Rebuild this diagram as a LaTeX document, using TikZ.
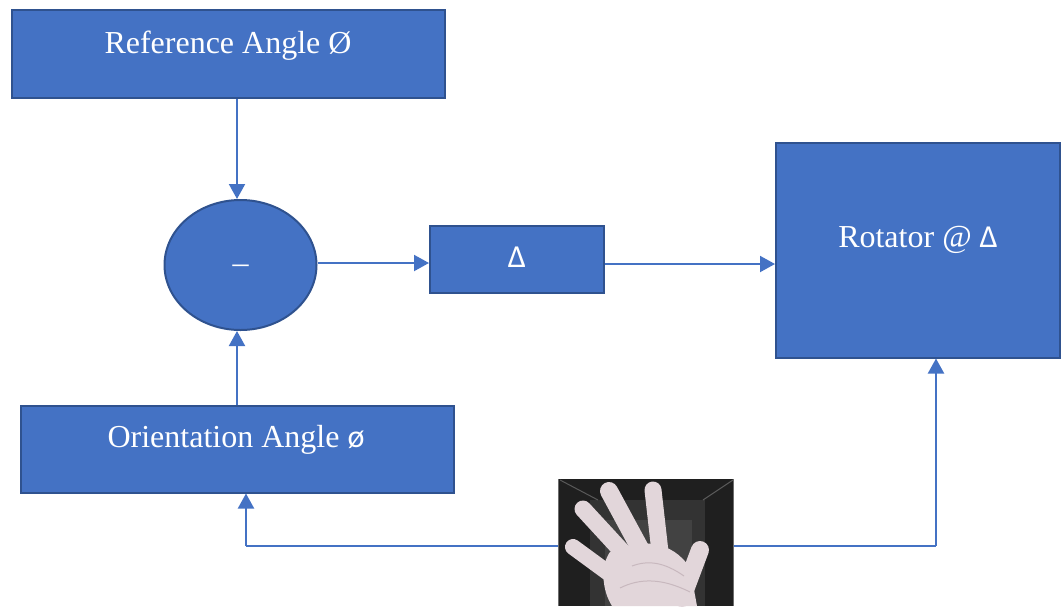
\documentclass[tikz,border=0pt]{standalone}
\usepackage{fontspec}
\setmainfont{Liberation Serif}
\newfontfamily\sfd{Carlito}
\usetikzlibrary{arrows.meta,shapes.geometric}
\definecolor{blu}{HTML}{4472C4}
\definecolor{bord}{HTML}{2F528F}
\definecolor{skin}{HTML}{E2D6DA}
\definecolor{skind}{HTML}{C8B8BE}
\tikzset{
  box/.style={draw=bord, fill=blu, line width=2pt, inner sep=0pt},
  lbl/.style={text=white, font=\fontsize{32}{38}\selectfont, anchor=base, inner sep=0pt},
  conn/.style={draw=blu, line width=2pt, -{Triangle[length=15pt,width=16pt]}},
  line/.style={draw=blu, line width=2pt},
  finger/.style={draw=skin, line cap=round},
}
\begin{document}
\begin{tikzpicture}[x=1pt,y=-1pt]
\useasboundingbox (0,0) rectangle (1063,606);
% boxes
\node[box, minimum width=433pt, minimum height=88pt] (ref) at (228,54) {};
\node[lbl] (reft) at (228,53) {Reference Angle Ø};
\node[box, ellipse, minimum width=152pt, minimum height=130pt] (ell) at (240.5,265) {};
\node[lbl] (minus) at (240.5,262) {\_};
\node[box, minimum width=174pt, minimum height=67pt] (del) at (517,259) {};
\node[lbl, font=\fontsize{32}{38}\sfd] (delt) at (517,267) {Δ};
\node[box, minimum width=284pt, minimum height=215pt] (rot) at (918,250) {};
\node[lbl] (rott) at (918,247) {Rotator @ {\sfd Δ}};
\node[box, minimum width=433pt, minimum height=87pt] (ori) at (237,449) {};
\node[lbl] (orit) at (236,447) {Orientation Angle {\sfd ø}};
% hand picture
\node[inner sep=0pt, minimum width=175pt, minimum height=127pt] (img) at (646,542.5) {};
\begin{scope}
\clip (img.north west) rectangle (img.south east);
\fill[black!88] (img.north west) rectangle (img.south east);
\fill[black!80] (590,500) rectangle (705,606);
\fill[black!74] (605,520) rectangle (692,606);
\draw[black!65, line width=1pt] (560,480) -- (598,500) (733,480) -- (703,500);
\draw[finger, line width=16pt] (573,547) -- (618,580);
\draw[finger, line width=17pt] (583,509) -- (630,560);
\draw[finger, line width=18pt] (609,491) -- (642,552);
\draw[finger, line width=17pt] (653,490) -- (660,552);
\draw[finger, line width=18pt] (700,550) -- (682,598);
\fill[skin] (610,552) .. controls (640,538) and (672,540) .. (690,568) -- (697,606) -- (612,606) .. controls (602,590) and (600,566) .. (610,552) -- cycle;
\draw[skind, line width=1pt] (620,588) .. controls (640,578) and (662,578) .. (690,592);
\draw[skind, line width=1pt] (632,566) .. controls (648,560) and (664,562) .. (684,576);
\end{scope}
% connectors
\coordinate (t1) at (237,0);
\draw[conn] (ref.south -| t1) -- (ell.north -| t1);
\draw[conn] (ori.north -| t1) -- (ell.south -| t1);
\draw[conn] (ell.east |- 0,263) -- (del.west |- 0,263);
\draw[conn] (del.east |- 0,264) -- (rot.west |- 0,264);
\coordinate (c1) at (246,546);
\coordinate (c2) at (936,546);
\draw[line] (img.west |- c1) -- (c1);
\draw[conn] (c1) -- (c1 |- ori.south);
\draw[line] (img.east |- c2) -- (c2);
\draw[conn] (c2) -- (c2 |- rot.south);
\end{tikzpicture}
\end{document}
